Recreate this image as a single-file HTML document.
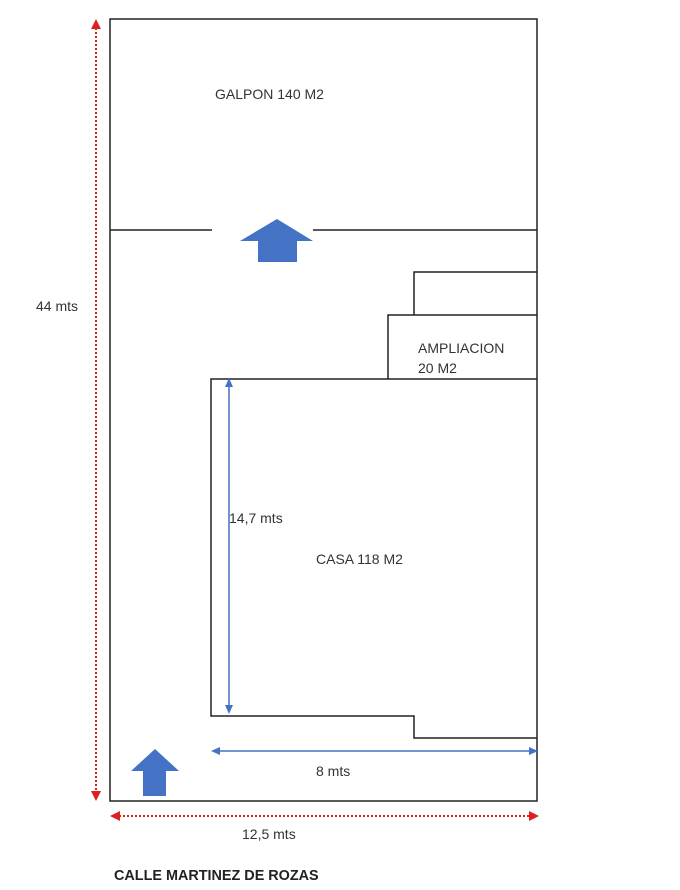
<!DOCTYPE html>
<html><head><meta charset="utf-8"><style>
html,body{margin:0;padding:0;background:#fff;}
svg{display:block}
text{font-family:"Liberation Sans",sans-serif;font-size:14px;fill:#333;}
</style></head><body>
<svg width="680" height="890" viewBox="0 0 680 890" xmlns="http://www.w3.org/2000/svg">
<g fill="none" stroke="#222" stroke-width="1.5">
<rect x="110" y="19" width="427" height="782"/>
<line x1="110" y1="230" x2="212" y2="230"/>
<line x1="313" y1="230" x2="537" y2="230"/>
<polyline points="414,315 414,272 537,272"/>
<polyline points="388,379 388,315 537,315"/>
<polyline points="537,379 211,379 211,716 414,716 414,738 537,738"/>
</g>
<polygon points="277,219 313,241 297,241 297,262 258,262 258,241 240,241" fill="#4472C4"/>
<polygon points="155,749 179,771 166,771 166,796 143,796 143,771 131,771" fill="#4472C4"/>
<g stroke="#4472C4" stroke-width="1.5" fill="#4472C4">
<line x1="229" y1="386" x2="229" y2="706"/>
<polygon points="229,378 225,387 233,387" stroke="none"/>
<polygon points="229,714 225,705 233,705" stroke="none"/>
<line x1="218" y1="751" x2="530" y2="751"/>
<polygon points="211,751 220,747 220,755" stroke="none"/>
<polygon points="538,751 529,747 529,755" stroke="none"/>
</g>
<g stroke="#e02020" stroke-width="2" stroke-dasharray="2,2" fill="none">
<line x1="96" y1="28" x2="96" y2="792"/>
<line x1="119" y1="816" x2="530" y2="816"/>
</g>
<g fill="#e02020">
<polygon points="96,19 91,29 101,29"/>
<polygon points="96,801 91,791 101,791"/>
<polygon points="110,816 120,811 120,821"/>
<polygon points="539,816 529,811 529,821"/>
</g>
<text x="215" y="99">GALPON 140 M2</text>
<text x="418" y="353">AMPLIACION</text>
<text x="418" y="373">20 M2</text>
<text x="316" y="564">CASA 118 M2</text>
<text x="229" y="523">14,7 mts</text>
<text x="316" y="776">8 mts</text>
<text x="242" y="839">12,5 mts</text>
<text x="36" y="311">44 mts</text>
<text x="114" y="880" style="font-weight:bold;font-size:14.4px;fill:#222">CALLE MARTINEZ DE ROZAS</text>
</svg>
</body></html>
